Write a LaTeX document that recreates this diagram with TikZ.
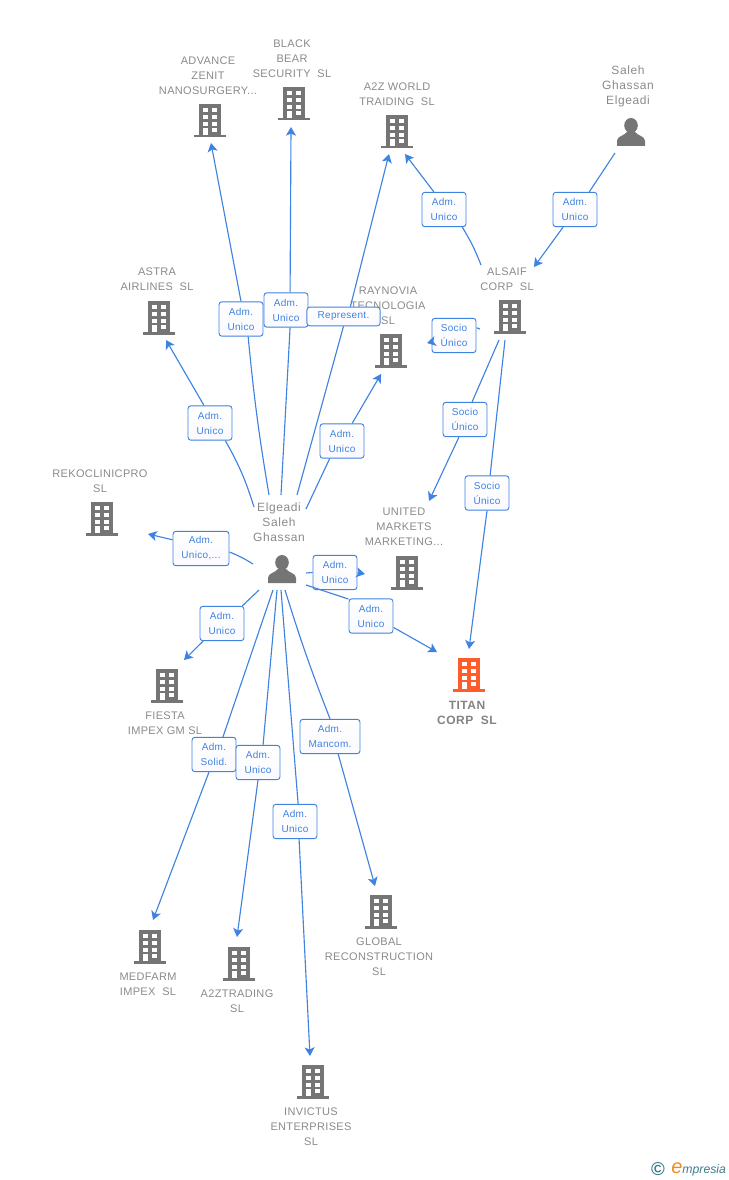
\documentclass[tikz,border=0pt]{standalone}
\usepackage{fontspec}
\setmainfont{Liberation Sans}
\usepackage{xcolor}
\usetikzlibrary{arrows.meta}
\definecolor{linkblue}{HTML}{3F83E0}
\definecolor{iconGray}{HTML}{757575}
\definecolor{textGray}{HTML}{8A8A8A}
\definecolor{titanRed}{HTML}{FF5B2B}
\definecolor{logoTeal}{HTML}{3C7C8C}
\definecolor{logoOrange}{HTML}{F08A1D}
\tikzset{
    link/.style={linkblue, line width=0.85pt},
    linkTip/.style={link, -{Stealth[length=6.5pt, width=7.5pt, inset=1.6pt]}},
    entity/.style={textGray, align=center, inner sep=0pt, yshift=-0.75pt,
        font=\fontsize{8.25}{11.25}\selectfont\addfontfeatures{LetterSpace=3}},
    personName/.style={entity,
        font=\fontsize{9}{11.25}\selectfont\addfontfeatures{LetterSpace=5}},
    roleBox/.style={draw=linkblue, line width=0.7pt, rounded corners=2.2pt,
        top color=white, bottom color=blue!2, text=linkblue, align=center,
        inner sep=0pt, minimum width=33pt, minimum height=25.8pt,
        font=\fontsize{7.5}{11.25}\selectfont\addfontfeatures{LetterSpace=3}},
    pics/building/.style={code={
        \path[pic actions] (-11,-16) rectangle (11,15);
        \path[pic actions] (-16,15) rectangle (16,17.5);
        \foreach \wx in {-7.3,2.3}
            \foreach \wy in {-12,-5,2}
                \fill[white] (\wx,\wy) rectangle ++(5,4);
        \fill[white] (-7.3,8) rectangle ++(5,7);
        \fill[white] (2.3,8) rectangle ++(5,4);
    }},
    pics/person/.style={code={
        \path[pic actions] (0,-6.5) ellipse (6.8 and 7.5);
        \path[pic actions] (-14,14) -- (-14,9) .. controls (-14,4) and (-7,4) .. (-4,0)
            -- (4,0) .. controls (7,4) and (14,4) .. (14,9) -- (14,14) -- cycle;
    }}
}
\begin{document}
\begin{tikzpicture}[x=0.75pt, y=-0.75pt]
    \useasboundingbox (0,0) rectangle (728,1180);
    % company and person icons
    \foreach \ix/\iy in {210/120, 294/103, 397/131, 159/317, 391/350, 510/316, 102/518,
            407/572, 167/685, 150/946, 239/963, 313/1081, 381/911}
        \pic[fill=iconGray] at (\ix,\iy) {building};
    \pic[fill=titanRed] at (469,674) {building};
    \pic[fill=iconGray] at (631,132) {person};
    \pic[fill=iconGray] at (282,569) {person};
    % entity names
    \foreach \lname/\lx/\ly/\ltext in {
            advLabel/208/75/{ADVANCE\\ZENIT\\NANOSURGERY...},
            blackLabel/292/58/{BLACK\\BEAR\\SECURITY~~SL},
            worldLabel/397/93.5/{A2Z WORLD\\TRAIDING~~SL},
            astraLabel/157/278.5/{ASTRA\\AIRLINES~~SL},
            rayLabel/388/305/{RAYNOVIA\\TECNOLOGIA\\SL},
            alsaifLabel/507/278.5/{ALSAIF\\CORP~~SL},
            rekoLabel/100/480.5/{REKOCLINICPRO\\SL},
            unitedLabel/404/526/{UNITED\\MARKETS\\MARKETING...},
            fiestaLabel/165/722.5/{FIESTA\\IMPEX GM SL},
            medfarmLabel/148/983.5/{MEDFARM\\IMPEX~~SL},
            tradingLabel/237/1000.5/{A2ZTRADING\\SL},
            invictusLabel/311/1126/{INVICTUS\\ENTERPRISES\\SL},
            globalLabel/379/956/{GLOBAL\\RECONSTRUCTION\\SL}}
        \node[entity] (\lname) at (\lx,\ly) {\ltext};
    \node[personName] (salehLabel) at (628,85) {Saleh\\Ghassan\\Elgeadi};
    \node[personName] (elgeadiLabel) at (279,521) {Elgeadi\\Saleh\\Ghassan};
    \node[entity, font=\fontsize{9}{11.25}\selectfont\bfseries\addfontfeatures{LetterSpace=4}, text=iconGray!90]
        (titanLabel) at (467,711.5) {TITAN\\CORP~~SL};
    % role boxes
    \foreach \bname/\bx/\by/\btext in {
            boxWorld/444/209.5/{Adm.\\Unico},
            boxSaleh/575/209.5/{Adm.\\Unico},
            boxAdv/241/319/{Adm.\\Unico},
            boxBlack/286/310/{Adm.\\Unico},
            boxRay/342/441/{Adm.\\Unico},
            boxAstra/210/423/{Adm.\\Unico},
            boxUnited/335/572.5/{Adm.\\Unico},
            boxTitan/371/616/{Adm.\\Unico},
            boxFiesta/222/623.5/{Adm.\\Unico},
            boxSolid/214/754.5/{Adm.\\Solid.},
            boxTrading/258/762.5/{Adm.\\Unico},
            boxInvictus/295/821.5/{Adm.\\Unico},
            boxSocioRay/454/335.5/{Socio\\Único},
            boxSocioUnited/465/419.5/{Socio\\Único},
            boxSocioTitan/487/493/{Socio\\Único}}
        \node[roleBox] (\bname) at (\bx,\by) {\btext};
    \node[roleBox, minimum width=42pt] (boxReko) at (201,548.5) {Adm.\\Unico,...};
    \node[roleBox, minimum width=45pt] (boxGlobal) at (330,736.5) {Adm.\\Mancom.};
    \node[roleBox, minimum width=55pt, minimum height=14pt] (boxRep) at (343.5,316.5) {Represent.};
    % free ends of the connectors
    \foreach \cname/\cx/\cy in {
            outAdv/269/495, outBlack/281/495, outRep/297/495, outRay/306/509, outAstra/254/507,
            outReko/253/564, outUnited/306/573, outTitan/306/585, outFiesta/259/590,
            outSolid/273/590, outTrading/277/590, outInvictus/281/590, outGlobal/285/590,
            outWorld/481/265, outSaleh/615/153, outSocioRay/480/329,
            outSocioUnited/499/340, outSocioTitan/505/340,
            inAdv/211/143, inBlack/291/127, inRep/389/154, inRay/381/374, inAstra/166/340,
            inReko/148/534, inUnited/365/574, inTitan/437/652, inFiesta/184/660,
            inSolid/153/920, inTrading/237/937, inInvictus/310/1056, inGlobal/375/886,
            inWorld/405/154, inSaleh/534/267, inSocioRay/427/343,
            inSocioUnited/429/501, inSocioTitan/469/649}
        \coordinate (\cname) at (\cx,\cy);
    % connectors: entity to box
    \foreach \from/\to/\bend in {
            outAdv/boxAdv.292/2, outBlack/boxBlack.283/0, outRep/boxRep.south/0,
            outRay/boxRay.235/0, outAstra/boxAstra.311/-6, outReko/boxReko.353/-5,
            outUnited/boxUnited.180/0, outTitan/boxTitan.143/0, outFiesta/boxFiesta.41/0,
            outSolid/boxSolid.63/0, outTrading/boxTrading.74/0, outInvictus/boxInvictus.80/0,
            outGlobal/boxGlobal.north/-2, outWorld/boxWorld.316/-5, outSaleh/boxSaleh.51/0,
            outSocioRay/boxSocioRay.19/0, outSocioUnited/boxSocioUnited.68/0,
            outSocioTitan/boxSocioTitan.80/0}
        \draw[link] (\from) to[bend left=\bend] (\to);
    % connectors: box to entity
    \foreach \from/\to in {
            boxAdv.north/inAdv, boxBlack.77/inBlack, boxRep.55/inRep, boxRay.60/inRay,
            boxAstra.109/inAstra, boxReko.163/inReko, boxUnited.east/inUnited,
            boxTitan.333/inTitan, boxFiesta.223/inFiesta, boxSolid.254/inSolid,
            boxTrading.south/inTrading, boxInvictus.283/inInvictus, boxGlobal.295/inGlobal,
            boxWorld.120/inWorld, boxSaleh.236/inSaleh, boxSocioRay.196/inSocioRay,
            boxSocioUnited.251/inSocioUnited, boxSocioTitan.south/inSocioTitan}
        \draw[linkTip] (\from) -- (\to);
    % logo
    \node[text=logoTeal, inner sep=0pt, font=\fontsize{14}{14}\selectfont\bfseries] (logoMark) at (658,1169) {©};
    \node[anchor=base west, inner sep=0pt, text=logoTeal, font=\itshape\fontsize{9.2}{12}\selectfont]
        (logoName) at (671,1173) {\textcolor{logoOrange}{\fontsize{15}{12}\selectfont e}mpresia};
\end{tikzpicture}
\end{document}
